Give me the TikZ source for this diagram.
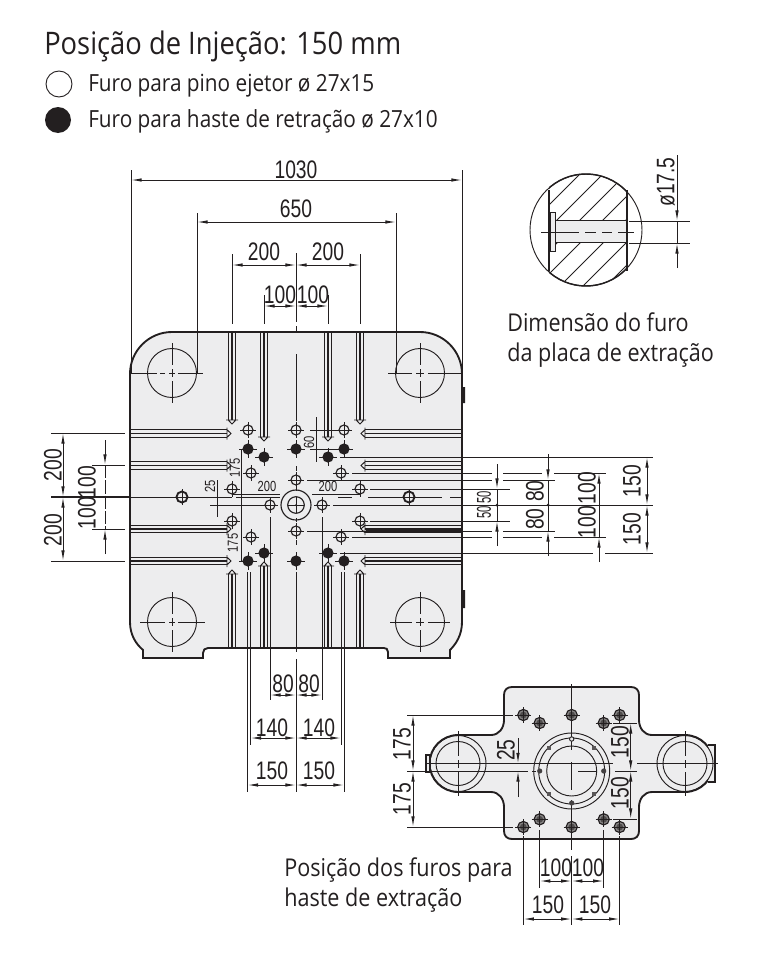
\documentclass[tikz,border=0pt]{standalone}
\usepackage{fontspec}
\usetikzlibrary{arrows.meta}
\setmainfont[FakeStretch=0.88]{Open Sans}
\newfontfamily\dimf[FakeStretch=0.76]{Liberation Sans}
\newfontfamily\dimn[FakeStretch=0.56]{Liberation Sans}
\definecolor{plate}{HTML}{EDEDEE}
\definecolor{ink}{HTML}{231F20}
\tikzset{
  lab/.style={anchor=base west,inner sep=0pt,text=ink,font=\fontsize{18.4}{22}\selectfont},
  dimt/.style={inner sep=0pt,text=ink,font=\dimf\fontsize{19}{21}\selectfont},
  dims/.style={inner sep=0pt,text=ink,font=\dimf\fontsize{11}{12}\selectfont},
  thn/.style={line width=0.7pt,draw=ink},
  med/.style={line width=0.85pt,draw=ink},
  bold/.style={line width=1.4pt,draw=ink},
  dm/.style={line width=0.7pt,draw=ink,{Latex[length=8pt,width=2.6pt]}-{Latex[length=8pt,width=2.6pt]}},
  da/.style={line width=0.7pt,draw=ink,-{Latex[length=8pt,width=2.6pt]}},
}
\newcommand{\openhole}[2]{\draw[med,fill=plate] (#1,#2) circle (5);
  \draw[thn] (#1-8,#2)--(#1+8,#2) (#1,#2-8)--(#1,#2+8);}
\newcommand{\fullhole}[2]{\fill[ink] (#1,#2) circle (5.6);
  \draw[thn] (#1-9,#2)--(#1+9,#2) (#1,#2-9)--(#1,#2+9);}
\newcommand{\gearhole}[2]{\fill[ink!55] (#1,#2) circle (5.6);\draw[med] (#1,#2) circle (5.6);
  \fill[ink!80] (#1,#2) circle (3.4);
  \draw[thn] (#1-8,#2)--(#1+8,#2) (#1,#2-8)--(#1,#2+8);}
\newcommand{\slotv}[4]{% x, y-start, y-end, sign of tip
  \draw[med] (#1-3.8,#2)--(#1-3.8,#3) (#1,#2)--(#1,#3) (#1+3.8,#2)--(#1+3.8,#3);
  \draw[thn] (#1-6,#3)--(#1+6,#3) (#1-3.8,#3)--(#1,#3+#4*4)--(#1+3.8,#3);}
\newcommand{\sloth}[4]{% y, x-start, x-end, sign of tip
  \draw[med] (#2,#1-3.8)--(#3,#1-3.8) (#2,#1)--(#3,#1) (#2,#1+3.8)--(#3,#1+3.8);
  \draw[thn] (#3,#1-6)--(#3,#1+6) (#3,#1-3.8)--(#3+#4*4,#1)--(#3,#1+3.8);}
\begin{document}
\begin{tikzpicture}[x=0.75pt,y=-0.75pt]
\useasboundingbox (0,0) rectangle (757,960);
% legend
\node[lab,font=\fontsize{23.3}{26}\selectfont] (title) at (44,54) {Posição de Injeção: 150 mm};
\draw[thn] (59,84) circle (13);
\fill[ink] (58,120) circle (13);
\node[lab,font=\fontsize{17.7}{20}\selectfont] (leg1) at (88,91) {Furo para pino ejetor ø 27x15};
\node[lab,font=\fontsize{17.7}{20}\selectfont] (leg2) at (88,127) {Furo para haste de retração ø 27x10};
% plate
\draw[bold,fill=plate] (172,332) -- (420,332) arc (-90:0:42) -- (462,622) .. controls (462,635) and (456,644) .. (450,650) -- (450,658) -- (388,658) -- (388,652) .. controls (388,649) and (386,648) .. (384,648) -- (208,648) .. controls (205,648) and (203,650) .. (203,653) -- (203,658) -- (143,658) -- (143,650) .. controls (136,644) and (130,635) .. (130,622) -- (130,374) arc (180:270:42) -- cycle;
\fill[ink] (462,387) rectangle (465,403) (462,590) rectangle (465,608);
% tie bars
\foreach \px/\py in {172/373,420/373,172/622,420/622}{
  \draw[thn] (\px,\py) circle (24.5);
  \draw[thn] (\px,\py-30)--(\px,\py-8) (\px,\py-4)--(\px,\py+4) (\px,\py+8)--(\px,\py+30);
}
\draw[thn] (130,373)--(157,373) (160,373)--(165,373) (169,373)--(175,373) (178,373)--(203,373);
\draw[thn] (388,373)--(412,373) (416,373)--(424,373) (428,373)--(462,373);
\draw[thn] (140,622)--(165,622) (169,622)--(175,622) (178,622)--(205,622);
\draw[thn] (390,622)--(412,622) (416,622)--(424,622) (428,622)--(450,622);
% slots
\foreach \vx/\ve in {232/420,264/437,328/437,360/420}{\slotv{\vx}{332}{\ve}{1}}
\foreach \vx/\ve in {232/574,264/566,328/566,360/574}{\slotv{\vx}{648}{\ve}{-1}}
\foreach \hy in {433.5,465.5,529,561}{\sloth{\hy}{130}{227}{1}\sloth{\hy}{462}{365}{-1}}
\fill[ink] (366,527.5) rectangle (462,533);
% top dims
\draw[thn] (131,170)--(131,373) (462,170)--(462,373);
\draw[dm] (131,180)--(462,180);
\node[dimt] (d1030) at (296,170) {1030};
\draw[thn] (197,213)--(197,373) (396,213)--(396,373);
\draw[dm] (197,222)--(396,222);
\node[dimt] (d650) at (296,209) {650};
\draw[thn] (232,254)--(232,324) (360,254)--(360,324) (264,295)--(264,324) (328,295)--(328,324);
\draw[thn] (296,253)--(296,322) (296,326)--(296,332) (296,354)--(296,421);
\draw[dm] (232,265)--(296,265);\draw[dm] (296,265)--(360,265);
\node[dimt] (d200a) at (264,252) {200};
\node[dimt] (d200b) at (328,252) {200};
\draw[dm] (264,306)--(296,306);\draw[dm] (296,306)--(328,306);
\node[dimt] (d100a) at (280,295) {100};
\node[dimt] (d100b) at (313,295) {100};
% left dims
\draw[thn] (51,433)--(125,433) (51,561)--(125,561) (92,465)--(125,465) (92,529)--(125,529);
\draw[dm] (63,433)--(63,497);\draw[dm] (63,497)--(63,561);
\node[dimt,rotate=90] (l200a) at (53,465) {200};
\node[dimt,rotate=90] (l200b) at (53,530) {200};
\draw[da] (105,440)--(105,465);\draw[da] (105,554)--(105,529);
\draw[thn,dash pattern=on 10pt off 1.5pt] (105,465)--(105,529);
\node[dimt,rotate=90] (l100a) at (87,482) {100};
\node[dimt,rotate=90] (l100b) at (87,513) {100};
% centre line y=497
\draw[med] (51,497)--(130,497);
\draw[thn] (130,497)--(214,497) (224,497)--(232,497) (236,497)--(280,497) (338,497)--(352,497) (368,497)--(442,497) (450,497)--(462,497);
% right dims
\draw[thn] (340,457)--(653,457);
\draw[thn] (352,473)--(492,473) (503,473)--(542,473) (554,473)--(606,473);
\draw[thn] (307,480)--(492,480) (503,480)--(555,480);
\draw[thn] (370,489)--(510,489);
\draw[thn] (333,505)--(653,505);
\draw[thn] (370,521)--(510,521);
\draw[thn] (307,531)--(492,531) (503,531)--(555,531);
\draw[thn] (352,537)--(492,537) (503,537)--(542,537) (554,537)--(606,537);
\draw[thn] (340,553)--(593,553) (605,553)--(653,553);
\draw[dm] (647,457)--(647,505);\draw[dm] (647,505)--(647,553);
\node[dimt,rotate=90] (r150a) at (632,481) {150};
\node[dimt,rotate=90] (r150b) at (632,529) {150};
\draw[da] (497,464)--(497,489);\draw[da] (497,546)--(497,521);\draw[thn] (497,489)--(497,521);
\fill[ink] (497,505) circle (1.5);
\node[rotate=90,inner sep=0pt,text=ink,font=\dimn\fontsize{15}{16}\selectfont] (r50a) at (484,512.5) {50};
\node[rotate=90,inner sep=0pt,text=ink,font=\dimn\fontsize{15}{16}\selectfont] (r50b) at (484,497.5) {50};
\draw[da] (548,454)--(548,480);\draw[da] (548,556)--(548,531);\draw[thn] (548,480)--(548,531);
\fill[ink] (548,505) circle (1.5);
\node[dimt,rotate=90] (r80a) at (535,491) {80};
\node[dimt,rotate=90] (r80b) at (535,519) {80};
\draw[da] (599,505)--(599,473);
\draw[thn] (599,505)--(599,537);\draw[da] (599,562)--(599,537);
\node[dimt,rotate=90] (r100a) at (587,488) {100};
\node[dimt,rotate=90] (r100b) at (587,522) {100};
% inner dims
\draw[thn] (316,417)--(316,462) (310,430)--(340,430) (310,449)--(340,449);
\node[dims,rotate=90] (i60) at (309,442) {60};
\draw[thn] (241,449)--(241,561);
\node[dims,rotate=90] (i175a) at (235,468) {175};
\node[dims,rotate=90] (i175b) at (233,543) {175};
\draw[thn] (217,480)--(217,517) (210,497)--(224,497) (210,505)--(263,505);
\node[dims,rotate=90] (i25) at (210,486) {25};
\draw[thn] (232,494)--(280,494) (312,494)--(360,494);
\draw[thn] (333,505)--(345,505);
\node[dims] (i200a) at (267,486) {200};
\node[dims] (i200b) at (328,486) {200};
% holes
\foreach \hx/\hy in {248/430,296/430,344/430,251/473,341/473,296/480,232/489,360/489,270/505,322/505,232/521,360/521,296/531,251/537,341/537}{\openhole{\hx}{\hy}}
\foreach \hx/\hy in {248/449,264/457,296/449,328/457,344/449,264/553,328/553,248/561,296/561,344/561}{\fullhole{\hx}{\hy}}
\foreach \hx in {182,409}{
  \draw[line width=1.4pt,draw=ink,fill=plate] (\hx,497) circle (5.5);
  \draw[thn] (\hx-8,497)--(\hx+8,497) (\hx,489)--(\hx,505);
}
% hub
\draw[med,fill=plate] (296,505) circle (15);
\draw[med] (296,505) circle (8.3);
\draw[thn] (296,497)--(296,513) (288,505)--(304,505);
\fill[ink] (296,505) circle (1);
\draw[thn] (296,466)--(296,471) (296,488)--(296,491) (296,518)--(296,522) (296,540)--(296,545);
% lower verticals and bottom dims
\draw[thn] (270,517)--(270,700) (322,517)--(322,700);
\draw[thn] (247.5,572)--(247.5,792) (344,572)--(344,792);
\draw[thn] (250.5,572)--(250.5,745) (341,572)--(341,745);
\draw[thn] (296,572)--(296,652) (296,659)--(296,792);
\draw[dm] (270,695)--(296,695);\draw[dm] (296,695)--(322,695);
\node[dimt] (b80a) at (283,684) {80};
\node[dimt] (b80b) at (309,684) {80};
\draw[dm] (250.5,738)--(296,738);\draw[dm] (296,738)--(341,738);
\node[dimt] (b140a) at (272,728) {140};
\node[dimt] (b140b) at (319,728) {140};
\draw[dm] (247.5,785)--(296,785);\draw[dm] (296,785)--(344,785);
\node[dimt] (b150a) at (272,771) {150};
\node[dimt] (b150b) at (319,771) {150};
% detail: ejector plate hole
\draw[thn] (586,230) circle (56);
\begin{scope}
  \clip (586,230) circle (56);
  \fill[plate] (549,220) rectangle (627,242);
  \clip (549,170) rectangle (627,220) (549,242) rectangle (627,290);
  \foreach \k in {-2,-1,...,8}{
    \draw[thn] (500+\k*23,300)--(640+\k*23,160);
  }
\end{scope}
\begin{scope}
  \clip (549,170) rectangle (627,290);
  \draw[line width=1.1pt,draw=ink] (586,230) circle (56);
\end{scope}
\draw[line width=1.1pt,draw=ink] (549,190)--(549,271) (627,190)--(627,271);
\draw[thn] (555,220)--(627,220) (555,242)--(627,242);
\draw[thn,fill=plate] (550,212) rectangle (555,251);
\draw[thn] (541,232)--(579,232) (585,232)--(596,232) (602,232)--(612,232) (618,232)--(634,232);
\draw[thn] (629,221)--(690,221) (629,243)--(690,243);
\draw[da] (677,155)--(677,221);\draw[da] (677,268)--(677,243);\draw[thn] (677,221)--(677,243);
\node[dimt,rotate=90] (dphi) at (666,182) {ø17.5};
\node[lab] (cap1) at (507,331) {Dimensão do furo};
\node[lab] (cap2) at (507,361) {da placa de extração};
% lower right figure
\draw[bold,fill=plate] (512,687) -- (631,687) .. controls (636,687) and (639,690) .. (639,695) -- (639,720) .. controls (639,728) and (644,735) .. (652,735) -- (685,735) arc (-90:90:28.5) -- (652,792) .. controls (644,792) and (639,799) .. (639,807) -- (639,831) .. controls (639,836) and (636,839) .. (631,839) -- (512,839) .. controls (507,839) and (504,836) .. (504,831) -- (504,807) .. controls (504,799) and (499,792) .. (491,792) -- (458,792) arc (90:270:28.5) -- (491,735) .. controls (499,735) and (504,728) .. (504,720) -- (504,695) .. controls (504,690) and (507,687) .. (512,687) -- cycle;
\draw[med,fill=plate] (426,755) rectangle (430,772);
\draw[med,fill=plate] (708,745) -- (715,745) -- (715,782) -- (708,782);
\foreach \cx in {458,685}{
  \draw[thn] (\cx,763.5) circle (28);
  \draw[thn] (\cx,763.5) circle (22);
  \draw[thn] (\cx,731)--(\cx,756) (\cx,760)--(\cx,768) (\cx,772)--(\cx,796);
}
\draw[thn] (426,763.5)--(613,763.5) (637,763.5)--(718,763.5);
\draw[thn] (407,771)--(528,771) (532,771)--(536,771) (578,771)--(596,771) (615,771)--(637,771);
\draw[thn] (407,715)--(513,715) (407,827)--(513,827);
\foreach \r in {38,33,25}{\draw[thn] (571.7,771) circle (\r);}
\draw[thn] (571.7,684)--(571.7,750) (571.7,762)--(571.7,790) (571.7,800)--(571.7,850) (571.7,856)--(571.7,925);
\foreach \dx/\dy in {-32/0,32/0,0/32}{\fill[ink!85] (571.7+\dx,771+\dy) circle (2.6);}
\draw[thn,fill=plate] (571.7,739) circle (2.2);
\foreach \dx/\dy in {-22.6/-22.6,22.6/-22.6,-22.6/22.6,22.6/22.6}{\fill[ink!75] (571.7+\dx-2,771+\dy+2) rectangle +(4,-4);}
\foreach \hx/\hy in {523.3/715,539.7/723,571.7/715,603.7/723,619.7/715,539.7/819.3,603.7/819.3,523.3/827,571.7/827,619.7/827}{\gearhole{\hx}{\hy}}
\draw[dm] (413,715)--(413,771);\draw[dm] (413,771)--(413,827);
\node[dimt,rotate=90] (q175a) at (402,744) {175};
\node[dimt,rotate=90] (q175b) at (402,799) {175};
\draw[da] (518,738)--(518,763.5);\draw[da] (518,797)--(518,771);
\node[dimt,rotate=90] (q25) at (506,750) {25};
\draw[thn] (613,723)--(637,723) (613,819)--(637,819);
\draw[dm] (630.7,723)--(630.7,771);\draw[dm] (630.7,771)--(630.7,819);
\node[dimt,rotate=90] (q150a) at (620,742) {150};
\node[dimt,rotate=90] (q150b) at (620,793) {150};
\draw[thn] (539.7,830)--(539.7,888) (603.7,830)--(603.7,888);
\draw[thn] (523.3,836)--(523.3,925) (619.7,836)--(619.7,925);
\draw[dm] (539.7,881)--(571.7,881);\draw[dm] (571.7,881)--(603.7,881);
\node[dimt] (q100a) at (556,868) {100};
\node[dimt] (q100b) at (588,868) {100};
\draw[dm] (523.3,919)--(571.7,919);\draw[dm] (571.7,919)--(619.7,919);
\node[dimt] (q150c) at (548,905) {150};
\node[dimt] (q150d) at (595,905) {150};
\node[lab] (cap3) at (284,876) {Posição dos furos para};
\node[lab] (cap4) at (284,906) {haste de extração};
\end{tikzpicture}
\end{document}
